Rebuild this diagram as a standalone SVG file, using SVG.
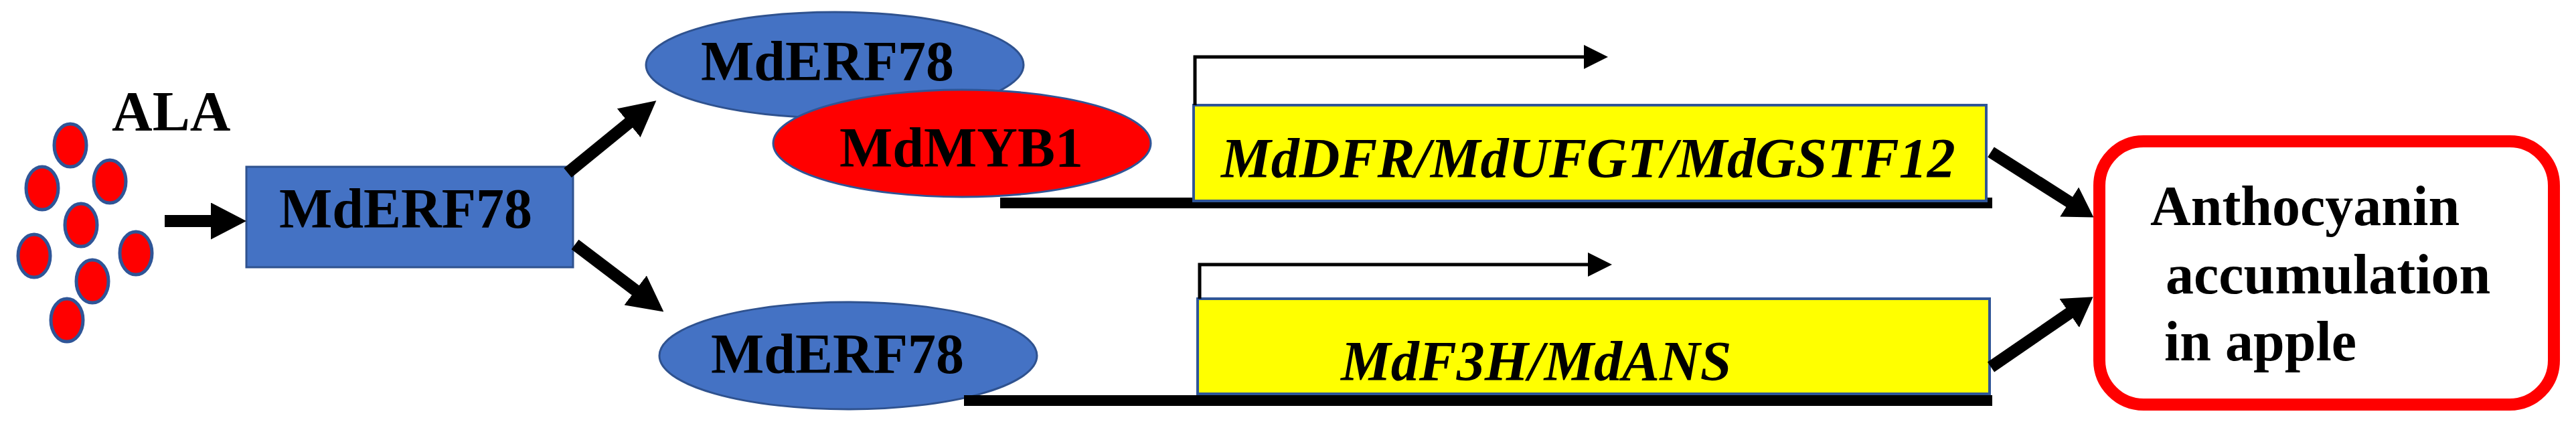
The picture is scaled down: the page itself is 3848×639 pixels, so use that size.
<svg xmlns="http://www.w3.org/2000/svg" width="3848" height="639" viewBox="0 0 3848 639">
<style>
.lbl{font-family:"Liberation Serif","Times New Roman",serif;font-weight:bold;font-size:84px;fill:#000}
.gene{font-family:"Liberation Serif","Times New Roman",serif;font-weight:bold;font-style:italic;font-size:84px;fill:#000}
.dot{fill:#FF0000;stroke:#2F5597;stroke-width:5}
.blue{fill:#4472C4;stroke:#2F528F;stroke-width:3}
.red{fill:#FF0000;stroke:#2F5597;stroke-width:3}
.yel{fill:#FFFF00;stroke:#2F5597;stroke-width:4}
.thick{stroke:#000;stroke-width:18;fill:none}
.thin{stroke:#000;stroke-width:5;fill:none}
</style>
<defs>
<marker id="bigHead" markerUnits="userSpaceOnUse" markerWidth="53" markerHeight="55" viewBox="0 0 53 55" refX="1" refY="27.5" orient="auto">
<path d="M0,0 L53,27.5 L0,55 z" fill="#000"/>
</marker>
<marker id="midHead" markerUnits="userSpaceOnUse" markerWidth="43" markerHeight="52" viewBox="0 0 43 52" refX="1" refY="26" orient="auto">
<path d="M0,0 L43,26 L0,52 z" fill="#000"/>
</marker>
<marker id="smallHead" markerUnits="userSpaceOnUse" markerWidth="36" markerHeight="36" viewBox="0 0 36 36" refX="1" refY="18" orient="auto">
<path d="M0,0 L36,18 L0,36 z" fill="#000"/>
</marker>
</defs>
<rect width="3848" height="639" fill="#fff"/>

<g id="ala">
<ellipse class="dot" cx="105" cy="217" rx="24" ry="32"/>
<ellipse class="dot" cx="63" cy="281" rx="24" ry="32"/>
<ellipse class="dot" cx="164" cy="271" rx="24" ry="32"/>
<ellipse class="dot" cx="121" cy="336" rx="24" ry="32"/>
<ellipse class="dot" cx="51" cy="382" rx="24" ry="32"/>
<ellipse class="dot" cx="203" cy="378" rx="24" ry="32"/>
<ellipse class="dot" cx="138" cy="420" rx="24" ry="32"/>
<ellipse class="dot" cx="100" cy="478" rx="24" ry="32"/>
<text x="167" y="195" class="lbl">ALA</text>
</g>

<g id="erf78-box">
<rect class="blue" x="368" y="249" width="488" height="150"/>
<text x="606" y="340" class="lbl" text-anchor="middle">MdERF78</text>
</g>

<g id="erf78-top">
<ellipse class="blue" cx="1247" cy="97" rx="282" ry="79"/>
<text x="1236" y="120" class="lbl" text-anchor="middle">MdERF78</text>
</g>

<g id="myb1">
<ellipse class="red" cx="1437" cy="214" rx="282" ry="80"/>
<text x="1436" y="249" class="lbl" text-anchor="middle">MdMYB1</text>
</g>

<g id="erf78-bottom">
<ellipse class="blue" cx="1267" cy="531" rx="282" ry="80"/>
</g>

<g id="dna-top">
<rect x="1494" y="295" width="1482" height="16" fill="#000"/>
<rect class="yel" x="1783" y="157" width="1184" height="143"/>
<text x="1824" y="265" class="gene">MdDFR/MdUFGT/MdGSTF12</text>
</g>

<g id="dna-bottom">
<rect x="1440" y="590" width="1536" height="16" fill="#000"/>
<rect class="yel" x="1789" y="446" width="1183" height="142"/>
<text x="2003" y="568" class="gene">MdF3H/MdANS</text>
</g>
<text x="1251" y="557" class="lbl" text-anchor="middle">MdERF78</text>

<g id="anthocyanin">
<rect x="3136" y="211" width="679" height="393" rx="66" ry="66" fill="#fff" stroke="#FF0000" stroke-width="18"/>
<text x="3212" y="336" class="lbl">Anthocyanin</text>
<text x="3235" y="438" class="lbl">accumulation</text>
<text x="3233" y="538" class="lbl">in apple</text>
</g>

<g id="connectors">
<line class="thick" x1="246" y1="330" x2="316" y2="330" marker-end="url(#bigHead)"/>
<line class="thick" x1="848" y1="258" x2="940" y2="183" marker-end="url(#bigHead)"/>
<line class="thick" x1="859" y1="365" x2="950" y2="434" marker-end="url(#bigHead)"/>
<line class="thick" x1="2974" y1="227" x2="3092" y2="302" marker-end="url(#midHead)"/>
<line class="thick" x1="2974" y1="548" x2="3092" y2="467" marker-end="url(#midHead)"/>
<polyline class="thin" points="1785,157 1785,85 2367,85" marker-end="url(#smallHead)"/>
<polyline class="thin" points="1792,446 1792,395 2373,395" marker-end="url(#smallHead)"/>
</g>
</svg>
